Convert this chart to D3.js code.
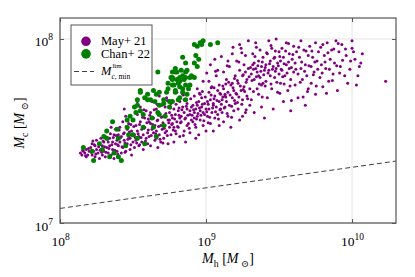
<!DOCTYPE html>
<meta charset="utf-8">
<style>
body { margin: 0; background: #fff; }
text { font-family: "Liberation Serif", "DejaVu Serif", serif; fill: #000; }
.grid line { stroke: #e4e4e4; stroke-width: 1; }
.frame { fill: none; stroke: #555; stroke-width: 1.2; }
</style>
<body>
<script src="https://cdn.jsdelivr.net/npm/d3@7"></script>
<script>
// [log10 Mh, log10 Mc] in solar masses
const may21 = [
  [8.14,7.38],[8.15,7.37],[8.16,7.39],[8.17,7.38],[8.18,7.36],[8.18,7.40],[8.19,7.37],[8.20,7.39],
  [8.21,7.41],[8.22,7.37],[8.22,7.43],[8.23,7.39],[8.24,7.36],[8.24,7.42],[8.25,7.40],[8.25,7.45],[8.26,7.38],[8.27,7.43],[8.27,7.35],[8.28,7.40],[8.28,7.46],[8.29,7.37],[8.29,7.42],[8.30,7.39],[8.30,7.44],
  [8.31,7.47],[8.31,7.36],[8.32,7.41],[8.32,7.50],[8.33,7.44],[8.33,7.38],[8.34,7.46],[8.34,7.42],[8.35,7.52],[8.35,7.37],[8.36,7.44],[8.36,7.40],[8.37,7.48],[8.37,7.35],[8.38,7.43],[8.38,7.51],[8.39,7.39],[8.39,7.45],[8.40,7.42],[8.40,7.48],
  [8.41,7.44],[8.41,7.52],[8.42,7.38],[8.42,7.47],[8.43,7.55],[8.43,7.41],[8.44,7.49],[8.44,7.45],[8.45,7.58],[8.45,7.39],[8.46,7.51],[8.46,7.43],[8.47,7.47],[8.47,7.54],[8.48,7.40],[8.48,7.46],[8.49,7.50],[8.49,7.37],[8.50,7.44],[8.50,7.56],[8.44,7.62],
  [8.51,7.48],[8.51,7.41],[8.52,7.53],[8.52,7.45],[8.53,7.59],[8.53,7.50],[8.54,7.42],[8.54,7.47],[8.55,7.55],[8.55,7.63],[8.56,7.44],[8.56,7.51],[8.57,7.48],[8.57,7.40],[8.58,7.57],[8.58,7.52],[8.59,7.46],[8.59,7.61],[8.60,7.49],[8.60,7.43],[8.53,7.66],
  [8.61,7.55],[8.61,7.47],[8.62,7.60],[8.62,7.42],[8.63,7.51],[8.63,7.66],[8.64,7.49],[8.64,7.57],[8.65,7.45],[8.65,7.53],[8.66,7.62],[8.66,7.50],[8.67,7.41],[8.67,7.56],[8.68,7.48],[8.68,7.59],[8.69,7.53],[8.69,7.44],[8.70,7.64],[8.70,7.51],[8.62,7.54],[8.66,7.46],[8.68,7.69],
  [8.71,7.58],[8.71,7.46],[8.72,7.53],[8.72,7.63],[8.73,7.50],[8.73,7.68],[8.74,7.56],[8.74,7.43],[8.75,7.60],[8.75,7.52],[8.76,7.48],[8.76,7.65],[8.77,7.57],[8.77,7.54],[8.78,7.44],[8.78,7.62],[8.79,7.50],[8.79,7.59],[8.80,7.55],[8.80,7.71],[8.72,7.49],[8.75,7.56],[8.78,7.52],
  [8.81,7.61],[8.81,7.52],[8.82,7.66],[8.82,7.47],[8.83,7.58],[8.83,7.55],[8.84,7.63],[8.84,7.70],[8.85,7.50],[8.85,7.60],[8.86,7.57],[8.86,7.44],[8.87,7.65],[8.87,7.62],[8.88,7.54],[8.88,7.74],[8.89,7.59],[8.89,7.49],[8.90,7.63],[8.90,7.56],[8.82,7.57],[8.85,7.67],[8.87,7.53],[8.89,7.61],
  [8.91,7.64],[8.91,7.55],[8.92,7.60],[8.92,7.69],[8.93,7.52],[8.93,7.62],[8.94,7.58],[8.94,7.73],[8.95,7.66],[8.95,7.48],[8.96,7.61],[8.96,7.56],[8.97,7.68],[8.97,7.63],[8.98,7.53],[8.98,7.77],[8.99,7.59],[8.99,7.65],[9.00,7.62],[9.00,7.50],[8.92,7.57],[8.94,7.64],[8.96,7.70],[8.98,7.60],[8.93,7.46],
  [9.01,7.66],[9.01,7.58],[9.02,7.71],[9.02,7.62],[9.03,7.54],[9.03,7.67],[9.04,7.74],[9.04,7.60],[9.05,7.64],[9.05,7.50],[9.06,7.69],[9.06,7.57],[9.07,7.63],[9.07,7.80],[9.08,7.72],[9.08,7.59],[9.09,7.66],[9.09,7.53],[9.10,7.70],[9.10,7.62],[9.03,7.86],[9.06,7.89],[9.08,7.83],[9.02,7.77],[9.05,7.65],[9.09,7.75],
  [9.11,7.67],[9.11,7.60],[9.12,7.73],[9.12,7.55],[9.13,7.69],[9.13,7.63],[9.14,7.78],[9.14,7.66],[9.15,7.58],[9.15,7.71],[9.16,7.64],[9.16,7.85],[9.17,7.75],[9.17,7.52],[9.18,7.68],[9.18,7.92],[9.19,7.61],[9.19,7.72],[9.20,7.80],[9.20,7.65],[9.12,7.82],[9.15,7.88],[9.18,7.76],[9.13,7.70],
  [9.21,7.70],[9.21,7.88],[9.22,7.62],[9.22,7.76],[9.23,7.83],[9.23,7.56],[9.24,7.72],[9.24,7.95],[9.25,7.67],[9.25,7.80],[9.26,7.86],[9.26,7.74],[9.27,7.60],[9.27,7.91],[9.28,7.78],[9.28,7.69],[9.29,7.84],[9.29,7.99],[9.30,7.73],[9.30,7.64],[9.23,7.97],[9.27,7.82],[9.25,7.58],
  [9.31,7.81],[9.31,7.67],[9.32,7.86],[9.32,7.92],[9.33,7.78],[9.33,7.60],[9.34,7.84],[9.34,7.98],[9.35,7.73],[9.35,7.82],[9.36,7.88],[9.36,7.70],[9.37,7.79],[9.37,7.94],[9.38,7.85],[9.38,7.63],[9.39,7.76],[9.39,7.90],[9.40,7.83],[9.40,7.57],[9.33,7.87],[9.36,7.80],[9.38,7.75],
  [9.41,7.86],[9.41,7.77],[9.42,7.92],[9.42,7.68],[9.43,7.83],[9.43,7.99],[9.44,7.80],[9.44,7.88],[9.45,7.73],[9.45,7.95],[9.46,7.85],[9.46,7.62],[9.47,7.90],[9.47,7.79],[9.48,7.84],[9.48,8.00],[9.49,7.71],[9.49,7.87],[9.50,7.81],[9.50,7.93],
  [9.51,7.88],[9.51,7.76],[9.52,7.95],[9.52,7.83],[9.53,7.66],[9.53,7.90],[9.54,7.80],[9.55,7.98],[9.55,7.86],[9.56,7.72],[9.57,7.92],[9.57,7.84],[9.58,7.61],[9.58,7.78],[9.59,7.89],[9.60,7.96],[9.60,7.82],
  [9.61,7.87],[9.61,7.75],[9.62,7.93],[9.63,7.81],[9.63,7.68],[9.64,7.90],[9.65,7.99],[9.65,7.84],[9.66,7.78],[9.67,7.94],[9.68,7.86],[9.68,7.64],[9.69,7.80],[9.70,7.91],[9.70,7.73],
  [9.71,7.96],[9.72,7.85],[9.72,7.76],[9.73,7.90],[9.74,7.82],[9.75,7.98],[9.75,7.70],[9.76,7.88],[9.77,7.93],[9.78,7.79],[9.79,7.86],[9.80,7.97],[9.80,7.74],
  [9.81,7.91],[9.82,7.84],[9.83,7.98],[9.84,7.77],[9.85,7.89],[9.86,7.94],[9.87,7.81],[9.88,7.87],[9.89,7.99],[9.90,7.72],
  [9.91,7.93],[9.92,7.85],[9.93,7.97],[9.95,7.80],[9.96,7.91],[9.97,7.76],[9.99,7.88],[10.00,7.95],
  [10.00,7.99],[10.01,7.93],[10.02,7.89],[10.04,7.80],[10.05,7.85],[10.06,7.87],[10.07,7.92],[10.03,7.75],
  [10.23,7.77],
  [8.155,7.395],[8.175,7.365],[8.195,7.405],[8.215,7.385],[8.235,7.425],[8.245,7.375],[8.265,7.415],[8.285,7.385],[8.295,7.445],[8.305,7.415],
  [8.315,7.385],[8.325,7.455],[8.335,7.405],[8.345,7.485],[8.355,7.425],[8.365,7.465],[8.375,7.395],[8.385,7.475],[8.395,7.425],[8.405,7.505],
  [8.415,7.465],[8.425,7.415],[8.435,7.485],[8.445,7.435],[8.455,7.525],[8.465,7.455],[8.475,7.495],[8.485,7.425],[8.495,7.475],[8.505,7.525],
  [8.225,7.445],[8.275,7.395],[8.345,7.365],[8.395,7.375],[8.445,7.385],[8.485,7.535],
  [8.515,7.465],[8.525,7.435],[8.535,7.485],[8.545,7.535],[8.555,7.465],[8.565,7.575],[8.575,7.515],[8.585,7.445],[8.595,7.545],[8.605,7.505],
  [8.615,7.585],[8.625,7.475],[8.635,7.535],[8.645,7.615],[8.655,7.485],[8.665,7.555],[8.675,7.525],[8.685,7.455],[8.695,7.575],[8.705,7.545],
  [8.715,7.515],[8.725,7.595],[8.735,7.475],[8.745,7.545],[8.755,7.625],[8.765,7.585],[8.775,7.505],[8.785,7.565],[8.795,7.645],[8.805,7.525],
  [8.815,7.585],[8.825,7.545],[8.835,7.615],[8.845,7.475],[8.855,7.565],[8.865,7.635],[8.875,7.585],[8.885,7.515],[8.895,7.675],[8.905,7.585],
  [8.545,7.425],[8.605,7.565],[8.665,7.645],[8.735,7.665],[8.795,7.485],[8.845,7.695],[8.575,7.615],[8.705,7.435],[8.765,7.535],[8.815,7.625],
  [8.915,7.615],[8.925,7.535],[8.935,7.655],[8.945,7.595],[8.955,7.705],[8.965,7.585],[8.975,7.645],[8.985,7.555],[8.995,7.685],[9.005,7.605],
  [9.015,7.645],[9.025,7.575],[9.035,7.695],[9.045,7.625],[9.055,7.735],[9.065,7.605],[9.075,7.665],[9.085,7.565],[9.095,7.705],[9.105,7.645],
  [9.115,7.745],[9.125,7.625],[9.135,7.685],[9.145,7.595],[9.155,7.765],[9.165,7.695],[9.175,7.635],[9.185,7.735],[9.195,7.665],[9.205,7.705],
  [9.215,7.775],[9.225,7.685],[9.235,7.745],[9.245,7.645],[9.255,7.805],[9.265,7.715],[9.275,7.765],[9.285,7.675],[9.295,7.795],[8.935,7.565],
  [8.975,7.715],[9.015,7.545],[9.055,7.675],[9.095,7.615],[9.135,7.755],[9.175,7.575],[9.215,7.655],[9.255,7.725],[8.955,7.625],[9.035,7.735],
  [9.115,7.685],[9.195,7.785],[9.275,7.615],[9.065,7.825],[9.145,7.855],[9.225,7.875],[9.105,7.905],[9.185,7.955],[9.245,7.925],[9.005,7.815],
  [9.305,7.845],[9.315,7.775],[9.325,7.835],[9.335,7.905],[9.345,7.795],[9.355,7.855],[9.365,7.755],[9.375,7.825],[9.385,7.875],[9.395,7.805],
  [9.405,7.845],[9.415,7.925],[9.425,7.815],[9.435,7.865],[9.445,7.755],[9.455,7.835],[9.465,7.895],[9.475,7.825],[9.485,7.765],[9.495,7.855],
  [9.505,7.905],[9.515,7.835],[9.525,7.795],[9.535,7.865],[9.545,7.935],[9.555,7.815],[9.565,7.875],[9.575,7.745],[9.585,7.845],[9.595,7.915],
  [9.325,7.715],[9.385,7.685],[9.445,7.965],[9.505,7.705],[9.565,7.975],[9.345,7.955],[9.405,7.745],[9.475,7.935],[9.535,7.755],[9.585,7.665],
  [9.615,7.835],[9.635,7.955],[9.645,7.765],[9.655,7.875],[9.675,7.825],[9.685,7.935],[9.695,7.715],[9.705,7.855],[9.725,7.935],[9.735,7.805],
  [9.745,7.875],[9.765,7.835],[9.785,7.955],[9.795,7.815],[9.815,7.875],[9.835,7.925],[9.845,7.835],[9.865,7.775],[9.875,7.945],[9.895,7.855],
  [9.915,7.815],[9.935,7.885],[9.955,7.945],[9.985,7.835],[9.665,7.685],[9.755,7.745],[9.825,7.705],[9.905,7.975]
];
const chan22 = [
  [8.16,7.41],[8.22,7.39],[8.23,7.34],[8.27,7.43],[8.29,7.40],[8.30,7.47],[8.32,7.50],[8.32,7.46],[8.34,7.36],[8.36,7.55],
  [8.37,7.38],[8.39,7.51],[8.40,7.46],[8.40,7.36],[8.42,7.34],[8.45,7.42],[8.46,7.52],[8.47,7.48],[8.48,7.58],[8.50,7.48],
  [8.52,7.60],[8.53,7.46],[8.55,7.61],[8.57,7.52],[8.58,7.43],[8.63,7.57],[8.64,7.52],[8.66,7.47],[8.67,7.60],[8.68,7.64],
  [8.71,7.53],[8.72,7.58],[8.53,7.64],[8.53,7.67],[8.60,7.67],[8.46,7.56],[8.51,7.63],[8.55,7.72],[8.58,7.68],[8.60,7.70],
  [8.64,7.72],[8.66,7.70],[8.68,7.71],[8.62,7.67],[8.71,7.67],[8.73,7.71],[8.74,7.73],[8.75,7.66],[8.77,7.75],[8.79,7.71],
  [8.67,7.82],[8.74,7.76],[8.77,7.79],[8.79,7.82],[8.80,7.78],[8.81,7.76],[8.82,7.74],[8.84,7.73],[8.82,7.68],[8.86,7.67],
  [8.87,7.70],[8.84,7.80],[8.84,7.90],[8.86,7.87],[8.87,7.83],[8.89,7.75],[8.90,7.80],[8.92,7.79],[8.92,7.97],[8.94,7.96],
  [8.96,7.98],[8.98,7.99],[9.03,7.97],[9.08,7.98],[8.93,7.91],[8.95,7.89],[8.92,7.87],[8.94,7.85],[8.97,7.97],[8.77,7.82],
  [8.80,7.82],[8.86,7.82],[8.89,7.79],[8.77,7.78],[8.82,7.77],[8.86,7.75],[8.79,7.72],[8.84,7.71],[8.77,7.66],[8.81,7.67],
  [8.79,7.84],[8.82,7.79],[8.83,7.83],[8.85,7.78],[8.76,7.79],[8.78,7.75],[8.86,7.79],[8.88,7.73],[8.55,7.71],[8.65,7.66],
  [8.71,7.65],[8.57,7.59],[8.50,7.56],[8.68,7.59],[8.75,7.63]
];
// M_c,min^lim line, end points
const limMh = [1e8, 2e10];
const limMc = [1.2e7, 2.17e7];
const xTicks = [1e8, 1e9, 1e10];
const yTicks = [1e7, 1e8];
const legendNames = ["May+ 21", "Chan+ 22"];
const colors = ["#800080", "#008000"];

const W = 415, H = 277;
const svg = d3.select("body").append("svg").attr("width", W).attr("height", H);

const x = d3.scaleLog().domain([1e8, 2e10]).range([60, 396]);
const y = d3.scaleLog().domain([1e7, 1.3e8]).range([223, 18]);

// grid
const grid = svg.append("g").attr("class", "grid");
grid.selectAll(".gx").data(xTicks).enter().append("line")
  .attr("x1", d => x(d)).attr("x2", d => x(d)).attr("y1", 18).attr("y2", 223);
grid.selectAll(".gy").data(yTicks).enter().append("line")
  .attr("y1", d => y(d)).attr("y2", d => y(d)).attr("x1", 60).attr("x2", 396);

// lim line
svg.append("path")
  .datum(limMh.map((m, i) => [m, limMc[i]]))
  .attr("d", d3.line().x(d => x(d[0])).y(d => y(d[1])))
  .attr("fill", "none").attr("stroke", "#404040").attr("stroke-width", 1)
  .attr("stroke-dasharray", "5,3");

// points
svg.append("g").selectAll("circle").data(may21).enter().append("circle")
  .attr("cx", d => x(Math.pow(10, d[0]))).attr("cy", d => y(Math.pow(10, d[1])))
  .attr("r", 1.5).attr("fill", colors[0]);
svg.append("g").selectAll("circle").data(chan22).enter().append("circle")
  .attr("cx", d => x(Math.pow(10, d[0]))).attr("cy", d => y(Math.pow(10, d[1])))
  .attr("r", 2.5).attr("fill", colors[1]);

// frame
svg.append("rect").attr("class", "frame").attr("x", 60).attr("y", 18).attr("width", 336).attr("height", 205);

function expLabels(g) {
  g.attr("font-family", null).attr("font-size", 13.5);
  g.select(".domain").remove();
  g.selectAll(".tick line").attr("stroke", "#555");
  g.selectAll(".tick text").each(function(d) {
    const t = d3.select(this).text(null).attr("dy", null);
    t.append("tspan").text("10");
    t.append("tspan").attr("dy", -6).attr("font-size", 9.5).text(Math.round(Math.log10(d)));
  });
}

svg.append("g").attr("transform", "translate(0,223)")
  .call(d3.axisBottom(x).tickValues(xTicks).tickSize(-4).tickFormat(""))
  .call(expLabels)
  .selectAll(".tick text").attr("y", 23);
svg.append("g").attr("transform", "translate(60,0)")
  .call(d3.axisLeft(y).tickValues(yTicks).tickSize(-4).tickFormat(""))
  .call(expLabels)
  .selectAll(".tick text").attr("x", -7).attr("y", 7).attr("text-anchor", "end");
svg.append("g").attr("transform", "translate(0,18)")
  .call(d3.axisTop(x).tickValues(xTicks).tickSize(-4).tickFormat(""))
  .call(g => { g.select(".domain").remove(); g.selectAll(".tick line").attr("stroke", "#555"); });
svg.append("g").attr("transform", "translate(396,0)")
  .call(d3.axisRight(y).tickValues(yTicks).tickSize(-4).tickFormat(""))
  .call(g => { g.select(".domain").remove(); g.selectAll(".tick line").attr("stroke", "#555"); });

// axis titles
function mathText(t, parts, fs) {
  let shift = 0;
  parts.forEach(p => {
    const s = t.append("tspan").text(p.t);
    if (p.i) s.attr("font-style", "italic");
    const target = p.sub ? 3.5 : 0;
    if (target !== shift) { s.attr("dy", target - shift); shift = target; }
    if (p.sub) s.attr("font-size", fs * 0.7);
  });
}
const xt = svg.append("text").attr("x", 228).attr("y", 263).attr("text-anchor", "middle").attr("font-size", 14);
mathText(xt, [{t: "M", i: true}, {t: "h", sub: true}, {t: " ["}, {t: "M", i: true}, {t: " \u2299", sub: true}, {t: "]"}], 14);
const yt = svg.append("text").attr("transform", "translate(24,123) rotate(-90)").attr("text-anchor", "middle").attr("font-size", 14);
mathText(yt, [{t: "M", i: true}, {t: "c", sub: true}, {t: " ["}, {t: "M", i: true}, {t: " \u2299", sub: true}, {t: "]"}], 14);

// legend
const lg = svg.append("g");
lg.append("rect").attr("x", 71).attr("y", 25).attr("width", 81).attr("height", 60)
  .attr("fill", "#fff").attr("stroke", "#555").attr("stroke-width", 1);
legendNames.forEach((n, i) => {
  lg.append("circle").attr("cx", 86).attr("cy", 41.3 + i * 12.6).attr("r", 4.8).attr("fill", colors[i]);
  lg.append("text").attr("x", 101).attr("y", 45.3 + i * 12.6).attr("font-size", 12.5).text(n);
});
lg.append("line").attr("x1", 74).attr("x2", 94).attr("y1", 71.5).attr("y2", 71.5)
  .attr("stroke", "#404040").attr("stroke-dasharray", "5,3");
const mL = lg.append("text").attr("x", 101).attr("y", 75).attr("font-size", 12.5).attr("font-style", "italic").text("M");
const mw = mL.node().getComputedTextLength();
lg.append("text").attr("x", 101 + mw + 1).attr("y", 68).attr("font-size", 7).text("lim");
const sub = lg.append("text").attr("x", 101 + mw).attr("y", 79).attr("font-size", 7.5);
sub.append("tspan").attr("font-style", "italic").text("c");
sub.append("tspan").text(", min");
</script>
</body>
